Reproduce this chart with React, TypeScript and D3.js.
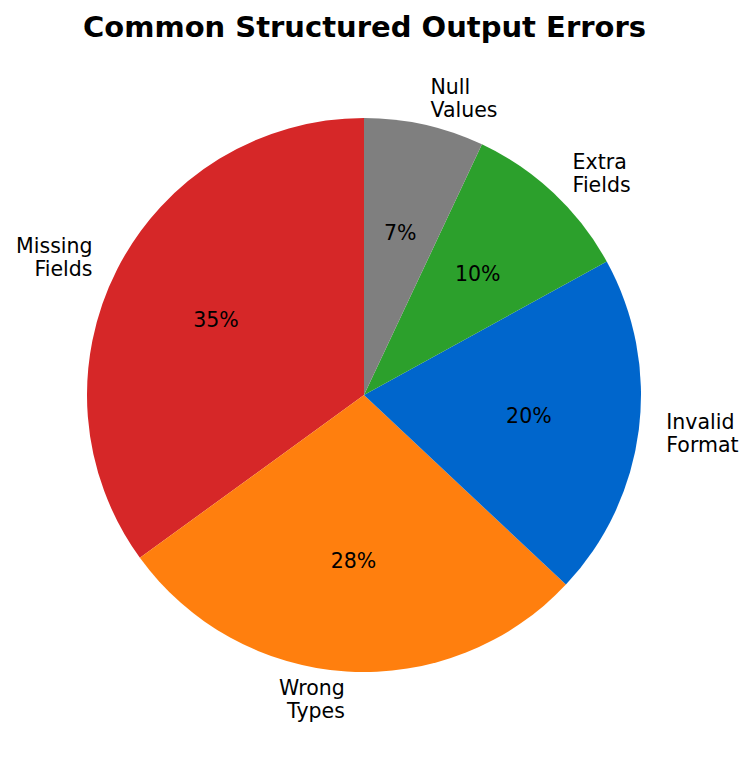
import { useEffect } from "react";
import * as d3 from "d3";

// Chart data
const CATEGORIES = ["Missing\nFields", "Wrong\nTypes", "Invalid\nFormat", "Extra\nFields", "Null\nValues"];
const SHARES = [35, 28, 20, 10, 7];
const COLORS = ["#d62728", "#ff7f0e", "#0066cc", "#2ca02c", "#7f7f7f"];
const TITLE = "Common Structured Output Errors";

const W = 755;
const H = 757;
const FONT = "'DejaVu Sans', sans-serif";

type Slice = { label: string; value: number; color: string };

export default function App() {
  useEffect(() => {
    document.body.style.margin = "0";
  }, []);

  const cx = 364;
  const cy = 395;
  const radius = 277;

  const data: Slice[] = CATEGORIES.map((label, i) => ({ label, value: SHARES[i], color: COLORS[i] }));

  // matplotlib style: start at top, go counterclockwise
  const pie = d3.pie<Slice>()
    .value(d => d.value)
    .sort(null)
    .startAngle(0)
    .endAngle(-2 * Math.PI);

  const arcs = pie(data);
  const arc = d3.arc<d3.PieArcDatum<Slice>>().innerRadius(0).outerRadius(radius);

  const total = d3.sum(SHARES);

  // position at fraction of radius along the slice mid-angle
  const at = (d: d3.PieArcDatum<Slice>, k: number) => {
    const a = (d.startAngle + d.endAngle) / 2;
    return [Math.sin(a) * radius * k, -Math.cos(a) * radius * k];
  };

  return (
    <svg width={W} height={H} style={{ display: "block", background: "#fff" }} fontFamily={FONT}>
      <text x={364.5} y={37} textAnchor="middle" fontSize={29} fontWeight="bold" fill="#000">
        {TITLE}
      </text>
      <g transform={`translate(${cx},${cy})`}>
        {arcs.map((d, i) => (
          <path key={i} d={arc(d) || ""} fill={d.data.color} />
        ))}
        {arcs.map((d, i) => {
          const [x, y] = at(d, 0.6);
          return (
            <text key={"p" + i} x={x} y={y + 7} textAnchor="middle" fontSize={20.5} fill="#000">
              {`${Math.round((d.data.value / total) * 100)}%`}
            </text>
          );
        })}
        {arcs.map((d, i) => {
          const [x, y] = at(d, 1.1);
          const anchor = x > 0 ? "start" : "end";
          const lines = d.data.label.split("\n");
          return (
            <text key={"l" + i} x={x} y={y} textAnchor={anchor} fontSize={20.5} fill="#000">
              {lines.map((ln, j) => (
                <tspan key={j} x={x} y={y - 4 + j * 23}>{ln}</tspan>
              ))}
            </text>
          );
        })}
      </g>
    </svg>
  );
}
